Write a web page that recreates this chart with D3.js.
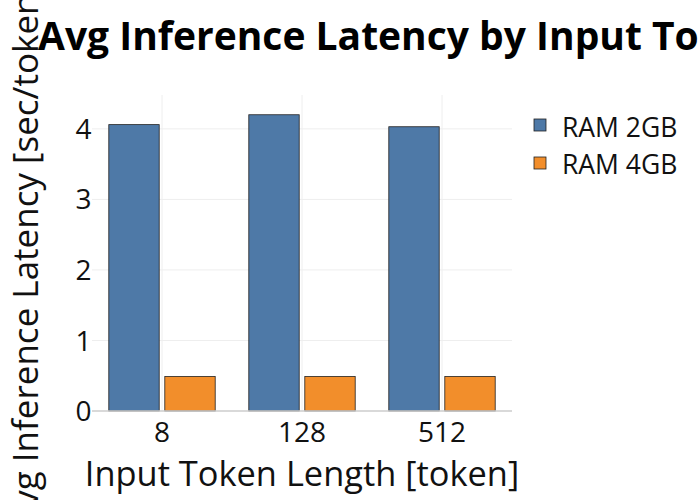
<!DOCTYPE html>
<html><head><meta charset="utf-8">
<script src="https://cdn.jsdelivr.net/npm/d3@7"></script>
<style>body{margin:0;background:#fff}svg{font-family:"Open Sans",sans-serif}</style>
</head><body>
<svg id="c" width="700" height="500"></svg>
<script>
const categories = ["8", "128", "512"];
const seriesNames = ["RAM 2GB", "RAM 4GB"];
const ram2gb = [4.06, 4.20, 4.03];
const ram4gb = [0.49, 0.49, 0.49];
const yTicks = [0, 1, 2, 3, 4];
const colors = ["#4e79a7", "#f28e2b"];

const svg = d3.select("#c");
const M = {l: 92, r: 512, t: 95, b: 411};
const x = d3.scaleBand().domain(categories).range([M.l, M.r]).paddingInner(0.2).paddingOuter(0.1);
const x0 = d3.scaleBand().domain(categories).range([M.l, M.r]);
const y = d3.scaleLinear().domain([0, 4.48]).range([M.b, M.t]);
const xs = d3.scaleBand().domain(seriesNames).range([0, x.bandwidth()]).paddingInner(0.1).paddingOuter(0.05);

// gridlines
svg.append("g").selectAll("line").data(yTicks.slice(1)).join("line")
  .attr("x1", M.l).attr("x2", M.r).attr("y1", d => y(d)).attr("y2", d => y(d))
  .attr("stroke", "#eeeeee").attr("stroke-width", 1);
svg.append("g").selectAll("line").data(categories).join("line")
  .attr("x1", d => x0(d) + x0.bandwidth()/2).attr("x2", d => x0(d) + x0.bandwidth()/2)
  .attr("y1", M.t).attr("y2", M.b)
  .attr("stroke", "#eeeeee").attr("stroke-width", 1);

const data = [ram2gb, ram4gb];
data.forEach((vals, si) => {
  svg.append("g").selectAll("rect").data(categories).join("rect")
    .attr("x", d => x(d) + xs(seriesNames[si]))
    .attr("width", xs.bandwidth())
    .attr("y", (d, i) => y(vals[i]))
    .attr("height", (d, i) => y(0) - y(vals[i]))
    .attr("fill", colors[si]).attr("stroke", "#222").attr("stroke-width", 0.8);
});

// zero line
svg.append("line").attr("x1", M.l).attr("x2", M.r).attr("y1", y(0)).attr("y2", y(0))
  .attr("stroke", "#cccccc").attr("stroke-width", 1.5);

// y tick labels
svg.append("g").selectAll("text").data(yTicks).join("text")
  .attr("x", M.l - 0.5).attr("y", d => y(d)).attr("dy", "0.36em")
  .attr("text-anchor", "end").attr("font-size", 28).attr("fill", "#111").text(d => d);
// x tick labels
svg.append("g").selectAll("text").data(categories).join("text")
  .attr("x", d => x0(d) + x0.bandwidth()/2).attr("y", 442)
  .attr("text-anchor", "middle").attr("font-size", 28).attr("fill", "#111").text(d => d);

// axis titles
svg.append("text").attr("x", (M.l + M.r)/2).attr("y", 486).attr("text-anchor", "middle")
  .attr("font-size", 34.4).attr("fill", "#111").text("Input Token Length [token]");
svg.append("text").attr("transform", `translate(38,${(M.t + M.b)/2 + 3}) rotate(-90)`)
  .attr("text-anchor", "middle").attr("font-size", 35).attr("fill", "#111")
  .text("Avg Inference Latency [sec/token]");

// title
svg.append("text").attr("x", 38).attr("y", 50).attr("font-size", 39).attr("font-weight", "bold")
  .attr("fill", "#000").text("Avg Inference Latency by Input Token Length");

// legend
const lg = svg.append("g");
seriesNames.forEach((n, i) => {
  lg.append("rect").attr("x", 534).attr("y", 119 + i*38).attr("width", 12).attr("height", 12)
    .attr("fill", colors[i]).attr("stroke", "#222").attr("stroke-width", 0.8);
  lg.append("text").attr("x", 562).attr("y", 136.5 + i*37)
    .attr("font-size", 26.5).attr("fill", "#111").text(n);
});
</script>
</body></html>
